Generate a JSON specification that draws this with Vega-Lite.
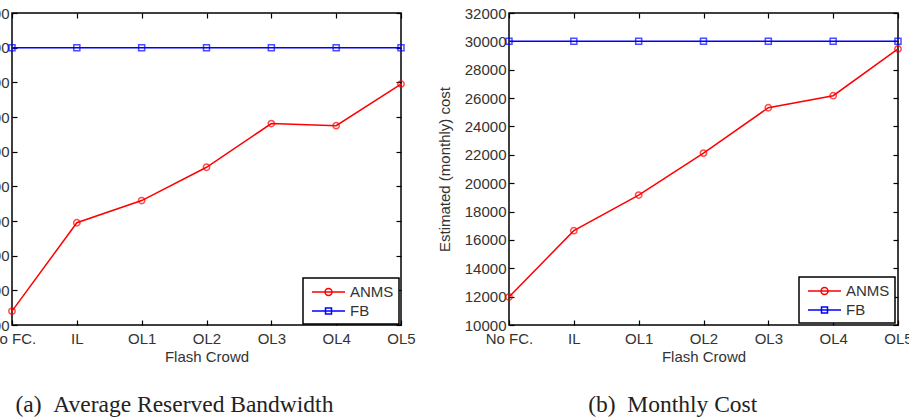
{
  "$schema": "https://vega.github.io/schema/vega-lite/v6.json",
  "padding": {"left": -26, "top": 5, "right": 0, "bottom": 0},
  "background": "white",
  "config": {
    "font": "Liberation Sans",
    "view": {"stroke": "black", "strokeWidth": 1.5},
    "axis": {
      "labelFont": "Liberation Sans",
      "labelFontSize": 15,
      "labelColor": "#333333",
      "titleFont": "Liberation Sans",
      "titleFontSize": 15,
      "titleFontWeight": "normal",
      "titleColor": "#333333",
      "domain": false,
      "grid": false,
      "tickColor": "black",
      "tickWidth": 1.2,
      "tickSize": -5,
      "labelPadding": 8
    },
    "legend": {
      "labelFont": "Liberation Sans",
      "labelFontSize": 15,
      "labelColor": "#333333"
    }
  },
  "datasets": {
    "bandwidth": [
      {"crowd": "No FC.", "series": "ANMS", "value": 140},
      {"crowd": "IL", "series": "ANMS", "value": 395},
      {"crowd": "OL1", "series": "ANMS", "value": 459},
      {"crowd": "OL2", "series": "ANMS", "value": 555},
      {"crowd": "OL3", "series": "ANMS", "value": 681},
      {"crowd": "OL4", "series": "ANMS", "value": 675},
      {"crowd": "OL5", "series": "ANMS", "value": 795},
      {"crowd": "No FC.", "series": "FB", "value": 900},
      {"crowd": "IL", "series": "FB", "value": 900},
      {"crowd": "OL1", "series": "FB", "value": 900},
      {"crowd": "OL2", "series": "FB", "value": 900},
      {"crowd": "OL3", "series": "FB", "value": 900},
      {"crowd": "OL4", "series": "FB", "value": 900},
      {"crowd": "OL5", "series": "FB", "value": 900}
    ],
    "cost": [
      {"crowd": "No FC.", "series": "ANMS", "value": 11980},
      {"crowd": "IL", "series": "ANMS", "value": 16650},
      {"crowd": "OL1", "series": "ANMS", "value": 19160},
      {"crowd": "OL2", "series": "ANMS", "value": 22120},
      {"crowd": "OL3", "series": "ANMS", "value": 25320},
      {"crowd": "OL4", "series": "ANMS", "value": 26170},
      {"crowd": "OL5", "series": "ANMS", "value": 29470},
      {"crowd": "No FC.", "series": "FB", "value": 30000},
      {"crowd": "IL", "series": "FB", "value": 30000},
      {"crowd": "OL1", "series": "FB", "value": 30000},
      {"crowd": "OL2", "series": "FB", "value": 30000},
      {"crowd": "OL3", "series": "FB", "value": 30000},
      {"crowd": "OL4", "series": "FB", "value": 30000},
      {"crowd": "OL5", "series": "FB", "value": 30000}
    ]
  },
  "spacing": 20,
  "resolve": {"scale": {"color": "independent"}, "legend": {"color": "independent"}},
  "hconcat": [
    {
      "width": 389,
      "height": 312,
      "data": {"name": "bandwidth"},
      "title": {"text": "(a)\u00a0\u00a0Average Reserved Bandwidth", "orient": "bottom", "font": "Liberation Serif", "fontSize": 23.5, "fontWeight": "normal", "color": "#222222", "frame": "bounds", "offset": 29, "dx": -21},
      "resolve": {"axis": {"x": "independent", "y": "independent"}},
      "layer": [
        {
          "mark": {"type": "line", "strokeWidth": 1.5},
          "encoding": {
            "x": {"field": "crowd", "type": "ordinal", "sort": null, "scale": {"type": "point", "padding": 0}, "axis": {"orient": "bottom", "labelAngle": 0, "labelPadding": 11, "title": "Flash Crowd", "titlePadding": 3}},
            "y": {"field": "value", "type": "quantitative", "scale": {"domain": [100, 1000], "nice": false}, "axis": {"orient": "left", "values": [100, 200, 300, 400, 500, 600, 700, 800, 900, 1000], "format": "d", "title": null}},
            "color": {
              "field": "series", "type": "nominal",
              "scale": {"domain": ["ANMS", "FB"], "range": ["#ff0000", "#0000ff"]},
              "legend": {
                "orient": "none", "legendX": 291, "legendY": 265, "title": null,
                "strokeColor": "black", "fillColor": "white", "padding": 5,
                "symbolSize": 256, "symbolStrokeWidth": 1.5, "rowPadding": 2, "labelOffset": 24,
                "encode": {
                  "legend": {"update": {"strokeWidth": {"value": 1.5}}},
                  "symbols": {"update": {
                    "shape": {"signal": "datum.value === 'ANMS' ? 'M-0.625,0H3.5M1,0A0.4375,0.4375,0,1,1,1.875,0A0.4375,0.4375,0,1,1,1,0' : 'M-0.625,0H3.5M1.0625,-0.375H1.8125V0.375H1.0625Z'"},
                    "fill": {"value": "transparent"}
                  }}
                }
              }
            }
          }
        },
        {
          "transform": [{"filter": "datum.series === 'ANMS'"}],
          "mark": {"type": "point", "shape": "circle", "filled": false, "size": 40, "strokeWidth": 1.5, "color": "#ff0000"},
          "encoding": {
            "x": {"field": "crowd", "type": "ordinal", "sort": null, "axis": null},
            "y": {"field": "value", "type": "quantitative", "axis": null}
          }
        },
        {
          "transform": [{"filter": "datum.series === 'FB'"}],
          "mark": {"type": "point", "shape": "square", "filled": false, "size": 36, "strokeWidth": 1.5, "color": "#0000ff"},
          "encoding": {
            "x": {"field": "crowd", "type": "ordinal", "sort": null, "axis": null},
            "y": {"field": "value", "type": "quantitative", "axis": null}
          }
        },
        {
          "mark": {"type": "point", "opacity": 0},
          "encoding": {
            "x": {"field": "crowd", "type": "ordinal", "sort": null, "axis": {"orient": "top", "labels": false, "title": null}},
            "y": {"field": "value", "type": "quantitative", "axis": {"orient": "right", "labels": false, "title": null, "values": [100, 200, 300, 400, 500, 600, 700, 800, 900, 1000]}}
          }
        }
      ]
    },
    {
      "width": 389,
      "height": 312,
      "data": {"name": "cost"},
      "title": {"text": "(b)\u00a0\u00a0Monthly Cost", "orient": "bottom", "font": "Liberation Serif", "fontSize": 23.5, "fontWeight": "normal", "color": "#222222", "frame": "bounds", "offset": 29, "dx": -2},
      "resolve": {"axis": {"x": "independent", "y": "independent"}},
      "layer": [
        {
          "mark": {"type": "line", "strokeWidth": 1.5},
          "encoding": {
            "x": {"field": "crowd", "type": "ordinal", "sort": null, "scale": {"type": "point", "padding": 0}, "axis": {"orient": "bottom", "labelAngle": 0, "labelPadding": 11, "title": "Flash Crowd", "titlePadding": 3}},
            "y": {"field": "value", "type": "quantitative", "scale": {"domain": [10000, 32000], "nice": false}, "axis": {"orient": "left", "values": [10000, 12000, 14000, 16000, 18000, 20000, 22000, 24000, 26000, 28000, 30000, 32000], "format": "d", "title": "Estimated (monthly) cost", "titlePadding": 12}},
            "color": {
              "field": "series", "type": "nominal",
              "scale": {"domain": ["ANMS", "FB"], "range": ["#ff0000", "#0000ff"]},
              "legend": {
                "orient": "none", "legendX": 290, "legendY": 264, "title": null,
                "strokeColor": "black", "fillColor": "white", "padding": 5,
                "symbolSize": 256, "symbolStrokeWidth": 1.5, "rowPadding": 2, "labelOffset": 24,
                "encode": {
                  "legend": {"update": {"strokeWidth": {"value": 1.5}}},
                  "symbols": {"update": {
                    "shape": {"signal": "datum.value === 'ANMS' ? 'M-0.625,0H3.5M1,0A0.4375,0.4375,0,1,1,1.875,0A0.4375,0.4375,0,1,1,1,0' : 'M-0.625,0H3.5M1.0625,-0.375H1.8125V0.375H1.0625Z'"},
                    "fill": {"value": "transparent"}
                  }}
                }
              }
            }
          }
        },
        {
          "transform": [{"filter": "datum.series === 'ANMS'"}],
          "mark": {"type": "point", "shape": "circle", "filled": false, "size": 40, "strokeWidth": 1.5, "color": "#ff0000"},
          "encoding": {
            "x": {"field": "crowd", "type": "ordinal", "sort": null, "axis": null},
            "y": {"field": "value", "type": "quantitative", "axis": null}
          }
        },
        {
          "transform": [{"filter": "datum.series === 'FB'"}],
          "mark": {"type": "point", "shape": "square", "filled": false, "size": 36, "strokeWidth": 1.5, "color": "#0000ff"},
          "encoding": {
            "x": {"field": "crowd", "type": "ordinal", "sort": null, "axis": null},
            "y": {"field": "value", "type": "quantitative", "axis": null}
          }
        },
        {
          "mark": {"type": "point", "opacity": 0},
          "encoding": {
            "x": {"field": "crowd", "type": "ordinal", "sort": null, "axis": {"orient": "top", "labels": false, "title": null}},
            "y": {"field": "value", "type": "quantitative", "axis": {"orient": "right", "labels": false, "title": null, "values": [10000, 12000, 14000, 16000, 18000, 20000, 22000, 24000, 26000, 28000, 30000, 32000]}}
          }
        }
      ]
    }
  ]
}
